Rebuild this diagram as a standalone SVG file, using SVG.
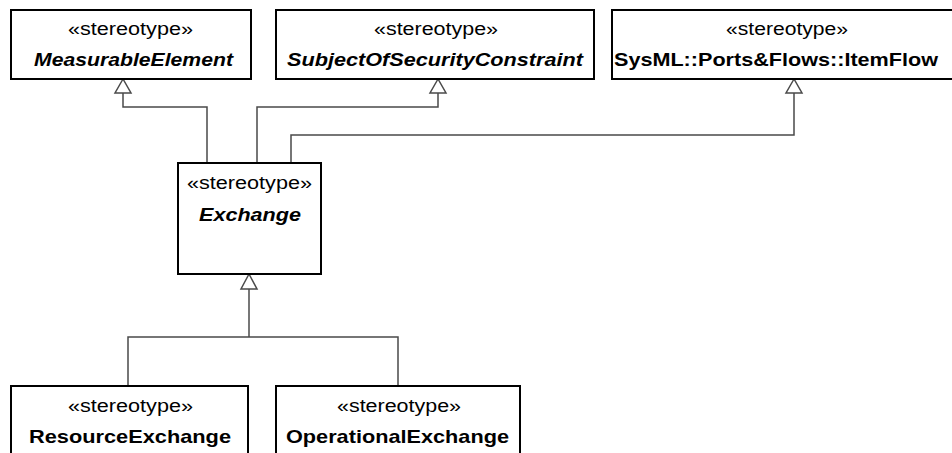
<svg xmlns="http://www.w3.org/2000/svg" width="952" height="453" viewBox="0 0 952 453">
<style>
.box{fill:#fff;stroke:#000;stroke-width:2}
.st{font-family:"Liberation Sans",Arial,sans-serif;font-size:18px;fill:#000}
.nm{font-family:"Liberation Sans",Arial,sans-serif;font-size:19px;font-weight:bold;fill:#000}
.it{font-style:italic}
.con{fill:none;stroke:#4a4a4a;stroke-width:1.5}
.tri{fill:#fff;stroke:#4a4a4a;stroke-width:1.5;stroke-linejoin:miter}
</style>
<rect width="952" height="453" fill="#fff"/>
<g id="connectors">
<polyline class="con" points="207,163 207,107 123,107 123,93"/>
<polygon class="tri" points="123,79 115,93 131,93"/>
<polyline class="con" points="257,163 257,107 438,107 438,93"/>
<polygon class="tri" points="438,79 430,93 446,93"/>
<polyline class="con" points="291,163 291,135 794,135 794,93"/>
<polygon class="tri" points="794,79 786,93 802,93"/>
<polyline class="con" points="128,386 128,337 398,337 398,386"/>
<line class="con" x1="249" y1="337" x2="249" y2="289"/>
<polygon class="tri" points="249,274 241,289 257,289"/>
</g>
<g id="MeasurableElement">
<rect class="box" x="11" y="10" width="240" height="69"/>
<text class="st" x="68" y="35" textLength="125" lengthAdjust="spacingAndGlyphs">«stereotype»</text>
<text class="nm it" x="34" y="66" textLength="199" lengthAdjust="spacingAndGlyphs">MeasurableElement</text>
</g>
<g id="SubjectOfSecurityConstraint">
<rect class="box" x="276" y="10" width="318" height="69"/>
<text class="st" x="374" y="35" textLength="124" lengthAdjust="spacingAndGlyphs">«stereotype»</text>
<text class="nm it" x="287" y="66" textLength="296" lengthAdjust="spacingAndGlyphs">SubjectOfSecurityConstraint</text>
</g>
<g id="ItemFlow">
<rect class="box" x="612" y="10" width="350" height="69"/>
<text class="st" x="726" y="35" textLength="122" lengthAdjust="spacingAndGlyphs">«stereotype»</text>
<text class="nm" x="614" y="66" textLength="324" lengthAdjust="spacingAndGlyphs">SysML::Ports&amp;Flows::ItemFlow</text>
</g>
<g id="Exchange">
<rect class="box" x="178" y="163" width="143" height="111"/>
<text class="st" x="187" y="189" textLength="125" lengthAdjust="spacingAndGlyphs">«stereotype»</text>
<text class="nm it" x="199" y="221" textLength="102" lengthAdjust="spacingAndGlyphs">Exchange</text>
</g>
<g id="ResourceExchange">
<rect class="box" x="11" y="386" width="237" height="80"/>
<text class="st" x="68" y="412" textLength="125" lengthAdjust="spacingAndGlyphs">«stereotype»</text>
<text class="nm" x="29" y="443" textLength="202" lengthAdjust="spacingAndGlyphs">ResourceExchange</text>
</g>
<g id="OperationalExchange">
<rect class="box" x="276" y="386" width="244" height="80"/>
<text class="st" x="337" y="412" textLength="124" lengthAdjust="spacingAndGlyphs">«stereotype»</text>
<text class="nm" x="286" y="443" textLength="223" lengthAdjust="spacingAndGlyphs">OperationalExchange</text>
</g>
</svg>
